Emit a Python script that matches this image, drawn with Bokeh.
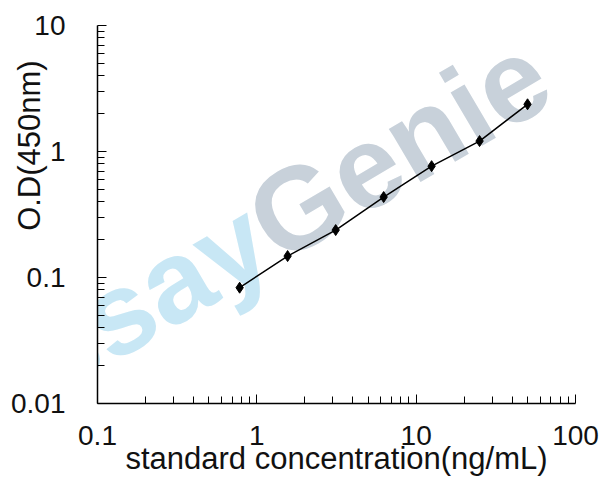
#Script to recreate the ELISA standard curve (log-log) with bokeh

##### IMPORT NECESSARY MODULES #####
import math

from bokeh.plotting import figure
from bokeh.models import FixedTicker, Label
from bokeh.embed import file_html
from bokeh.resources import INLINE

#### DATA ####
#standard concentrations (ng/mL)
concentration = [0.78, 1.56, 3.125, 6.25, 12.5, 25, 50]
#optical density at 450nm
od_450 = [0.083, 0.148, 0.238, 0.435, 0.765, 1.21, 2.37]

#tick labels on both axes
x_ticks = [0.1, 1, 10, 100]
y_ticks = [0.01, 0.1, 1, 10]

FONT = "Liberation Sans"

#minor ticks at 2..9 of every decade
def minor_ticks(major):
    out = []
    for m in major[:-1]:
        out += [m * k for k in range(2, 10)]
    return out

#### PLOT ####
p = figure(width=600, height=480, x_axis_type="log", y_axis_type="log",
           x_range=(0.1, 100), y_range=(0.01, 10),
           output_backend="svg", toolbar_location=None,
           min_border_left=97, min_border_right=25,
           min_border_top=25, min_border_bottom=77)

p.outline_line_color = None
p.grid.visible = False
p.background_fill_color = "white"
p.border_fill_color = "white"

#watermark behind the data (canvas units, y from the top)
wm_angle = math.radians(30.5)
wm_x, wm_y = 258, 230
p.add_layout(Label(x=wm_x, y=wm_y, x_units="canvas", y_units="canvas",
                   text="Assay", angle=wm_angle, text_align="right",
                   text_baseline="alphabetic", text_font=FONT,
                   text_font_style="bold", text_font_size="117px",
                   text_color="#c8e7f5", level="underlay"))
p.add_layout(Label(x=wm_x, y=wm_y, x_units="canvas", y_units="canvas",
                   text="Genie", angle=wm_angle, text_align="left",
                   text_baseline="alphabetic", text_font=FONT,
                   text_font_style="bold", text_font_size="117px",
                   text_color="#c8d1da", level="underlay"))

#curve and points
p.line(concentration, od_450, line_color="black", line_width=1.5)
p.scatter(concentration, od_450, marker="diamond", size=11,
          fill_color="black", line_color="black")

#axes
p.xaxis.ticker = FixedTicker(ticks=x_ticks, minor_ticks=minor_ticks(x_ticks))
p.yaxis.ticker = FixedTicker(ticks=y_ticks, minor_ticks=minor_ticks(y_ticks))
p.xaxis.major_label_overrides = {0.1: "0.1", 1: "1", 10: "10", 100: "100"}
p.yaxis.major_label_overrides = {0.01: "0.01", 0.1: "0.1", 1: "1", 10: "10"}

for ax in (p.xaxis[0], p.yaxis[0]):
    ax.axis_line_color = "black"
    ax.axis_line_width = 1.5
    ax.major_tick_in = 9
    ax.major_tick_out = 0
    ax.minor_tick_in = 7
    ax.minor_tick_out = 0
    ax.major_tick_line_color = "black"
    ax.minor_tick_line_color = "black"
    ax.major_label_text_font = FONT
    ax.major_label_text_font_size = "28px"
    ax.major_label_text_color = "#111111"
    ax.axis_label_text_font = FONT
    ax.axis_label_text_font_size = "31px"
    ax.axis_label_text_font_style = "normal"
    ax.axis_label_text_color = "#111111"
    ax.axis_label_standoff_mode = "axis"

p.xaxis.major_label_standoff = 22
p.yaxis.major_label_standoff = 32

#axis titles sit over the tick label band, like the original;
#the y title is shifted up with leading no-break spaces
p.xaxis.axis_label = "standard concentration(ng/mL)"
p.xaxis.axis_label_standoff = 37
p.yaxis.axis_label = "\u00a0" * 16 + "O.D(450nm)"
p.yaxis.axis_label_standoff = 51

open("out.html", "w").write(file_html(p, INLINE))
